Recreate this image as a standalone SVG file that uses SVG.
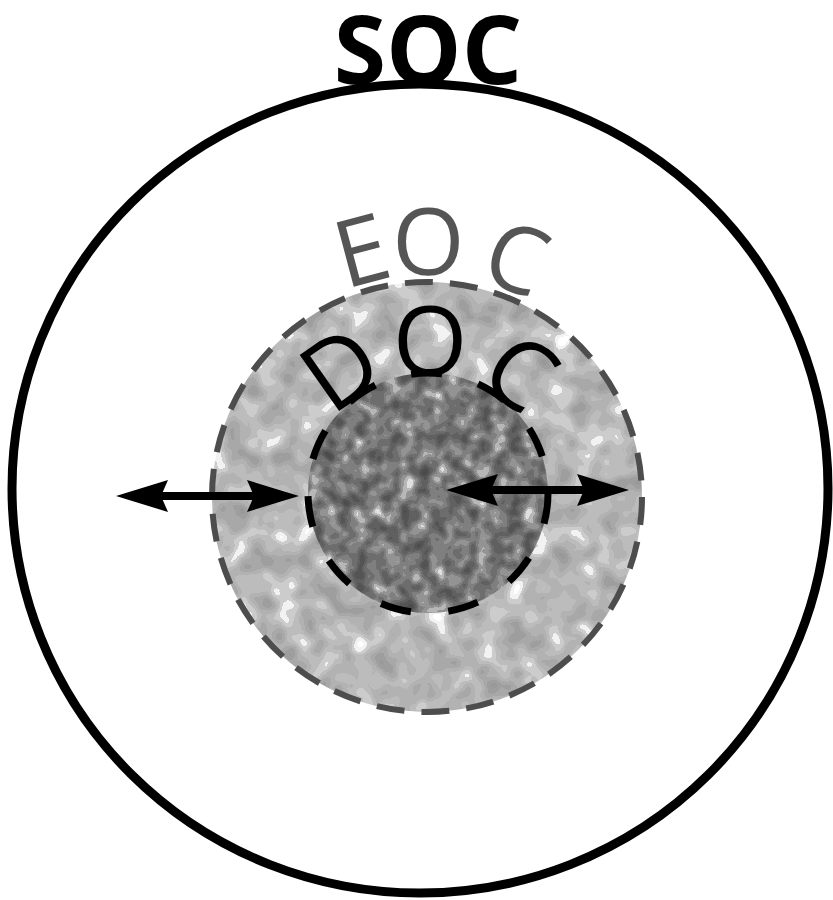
<svg xmlns="http://www.w3.org/2000/svg" width="833" height="900" viewBox="0 0 833 900">
<style>
.lbl { font-family: "Open Sans", "Liberation Sans", sans-serif; }
.soc-t { font-weight: 700; font-size: 95px; fill: #000; }
.eoc-t { font-size: 93px; fill: #555555; }
.doc-t { font-size: 96px; fill: #000; }
.arrow { stroke: #000; stroke-width: 8; fill: none; marker-start: url(#ah); marker-end: url(#ah); }
</style>
<defs>
<marker id="ah" viewBox="0 0 52 32" refX="12" refY="16" markerWidth="52" markerHeight="32" markerUnits="userSpaceOnUse" orient="auto-start-reverse">
<path d="M0,0 L52,16 L0,32 L7,16 Z" fill="#000"/>
</marker>
<filter id="texLight" x="0" y="0" width="1" height="1" color-interpolation-filters="sRGB">
<feTurbulence type="fractalNoise" baseFrequency="0.04" numOctaves="2" seed="7"/>
<feColorMatrix type="matrix" values="1 0 0 0 0  1 0 0 0 0  1 0 0 0 0  0 0 0 0 1"/>
<feComponentTransfer>
<feFuncR type="discrete" tableValues="0.6 0.6 0.62 0.66 0.7 0.74 0.8 0.95 1 1"/>
<feFuncG type="discrete" tableValues="0.6 0.6 0.62 0.66 0.7 0.74 0.8 0.95 1 1"/>
<feFuncB type="discrete" tableValues="0.6 0.6 0.62 0.66 0.7 0.74 0.8 0.95 1 1"/>
</feComponentTransfer>
<feComposite in2="SourceGraphic" operator="in"/>
</filter>
<filter id="texDark" x="0" y="0" width="1" height="1" color-interpolation-filters="sRGB">
<feTurbulence type="fractalNoise" baseFrequency="0.065" numOctaves="2" seed="3"/>
<feColorMatrix type="matrix" values="1 0 0 0 0  1 0 0 0 0  1 0 0 0 0  0 0 0 0 1"/>
<feComponentTransfer>
<feFuncR type="discrete" tableValues="0.28 0.3 0.33 0.38 0.43 0.5 0.58 0.72 0.88 0.92"/>
<feFuncG type="discrete" tableValues="0.28 0.3 0.33 0.38 0.43 0.5 0.58 0.72 0.88 0.92"/>
<feFuncB type="discrete" tableValues="0.28 0.3 0.33 0.38 0.43 0.5 0.58 0.72 0.88 0.92"/>
</feComponentTransfer>
<feComposite in2="SourceGraphic" operator="in"/>
</filter>
<path id="eocArc" d="M205,497 A222,222 0 0 1 649,497"/>
<path id="docArc" d="M310,493 A118,118 0 0 1 546,493"/>
</defs>
<rect width="833" height="900" fill="#fff"/>
<g id="soc">
<ellipse cx="420" cy="488.5" rx="408" ry="404.5" fill="#fff" stroke="#000" stroke-width="9"/>
<text class="lbl soc-t" x="428" y="84" text-anchor="middle">SOC</text>
</g>
<g id="eoc">
<circle cx="427" cy="497" r="215" fill="#b5b5b5" filter="url(#texLight)"/>
<circle cx="427" cy="497" r="215" fill="none" stroke="#4d4d4d" stroke-width="6" stroke-dasharray="28 17.03"/>
<text class="lbl eoc-t" dx="0 -3 13"><textPath href="#eocArc" startOffset="265">EOC</textPath></text>
</g>
<g id="doc">
<circle cx="428" cy="493" r="120" fill="#757575" filter="url(#texDark)"/>
<circle cx="428" cy="493" r="120" fill="none" stroke="#000" stroke-width="7" stroke-dasharray="31 37.54"/>
<text class="lbl doc-t" dx="0 2 8"><textPath href="#docArc" startOffset="78">DOC</textPath></text>
</g>
<g id="connectors">
<path class="arrow" d="M156,496 L259,496"/>
<path class="arrow" d="M486,490 L589,490"/>
</g>
</svg>
